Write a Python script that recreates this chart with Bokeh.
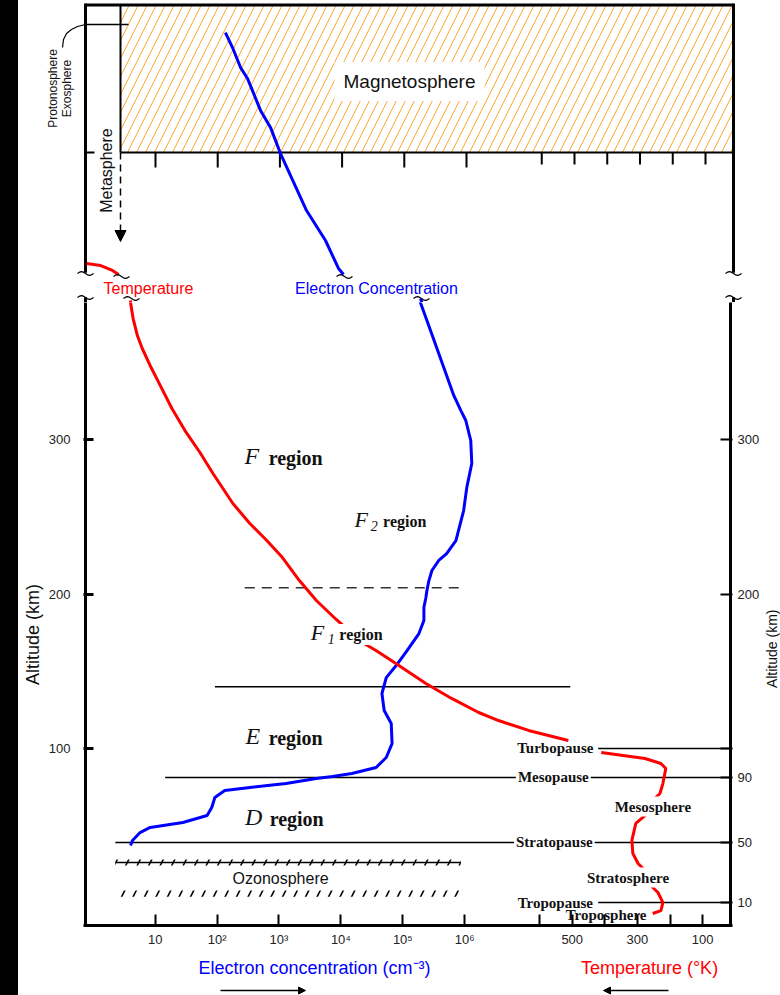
import math
from bokeh.plotting import figure
from bokeh.models import (Range1d, LinearAxis, FixedTicker, Arrow, NormalHead, Spacer,
                          LinearScale)
from bokeh.layouts import row, column
from bokeh.core.properties import value
from bokeh.embed import file_html
from bokeh.resources import INLINE

# ---------------- data ----------------
ne_ticks = [1e1, 1e2, 1e3, 1e4, 1e5, 1e6]
ne_tick_labels = ["10", "10²", "10³", "10⁴", "10⁵", "10⁶"]
temp_ticks = [600, 500, 400, 300, 200, 100]
temp_tick_labels = ["", "500", "", "300", "", "100"]
alt_ticks = [100, 200, 300]

# boundaries (chart altitude, km)
alt_f1_f2 = 204
alt_e_top = 140
alt_turbopause = 100
alt_mesopause = 81.2
alt_stratopause = 39.2
alt_tropopause = 0.3
alt_ozone_top = 26.2
alt_ozone_bottom = 6.1
alt_break_top = 408
alt_break_bottom = 392
alt_magnetosphere = 485.8
right_lower_labels = ["90", "50", "10"]   # mesopause, stratopause, tropopause

# electron concentration (cm^-3) vs altitude
ne_mag = [133, 173, 233, 301, 488, 706, 1023, 2680, 5410, 8753, 10540]
alt_ne_mag = [563.4, 553.7, 540.8, 533.7, 513, 502, 485.1, 448.2, 428.8, 410.7, 406.8]
ne_ion = [1.82e5, 2.45e5, 3.42e5, 4.77e5, 6.65e5, 8.63e5, 1.04e6, 1.25e6, 1.30e6, 1.08e6,
          9.6e5, 7.2e5, 5.1e5, 3.8e5, 2.95e5, 2.64e5, 2.45e5, 2.36e5, 2.19e5, 2.19e5,
          1.82e5, 1.17e5, 7.8e4, 5.4e4, 4.6e4, 5.0e4, 6.5e4, 6.7e4, 5.4e4, 3.7e4,
          1.5e4, 7.3e3, 4.0e3, 1.3e3, 340, 133, 92, 82, 69, 28, 8.3, 5.7, 4.3, 4.0]
alt_ne_ion = [391.3, 377, 360.8, 344.7, 328.5, 318.8, 312.3, 299.4, 284.5, 269,
              254, 234.6, 226.2, 221.7, 215.2, 208.7, 202.3, 197.7, 191.3, 182.8,
              174.4, 163.4, 153.7, 145.9, 135.6, 124.6, 116.2, 103.2, 94.2, 87.7,
              83.8, 81.9, 80.6, 77.3, 74.8, 72.8, 68.3, 61.8, 56.6, 52.1, 48.9, 45.6, 40.5, 37.2]

# temperature (K) vs altitude
temp_top = [1990, 1947, 1911, 1892]
alt_temp_top = [413.9, 412.6, 409.4, 406.8]
temp_thermo = [1856, 1847, 1834, 1819, 1795, 1764, 1728, 1688, 1642, 1602, 1541, 1489, 1437,
               1389, 1337, 1285, 1224, 1144, 1102, 1041, 949, 870, 787, 726, 634, 512]
alt_temp_thermo = [389.9, 378.3, 367.3, 358.9, 347.9, 335.0, 320.1, 305.8, 291.6, 278.0, 258.6,
                   245.6, 234.6, 223.6, 208.7, 195.8, 183.5, 168.6, 163.4, 155.0, 142.1, 132.4,
                   123.3, 118.1, 111.7, 105.2]
temp_atm = [411, 344, 277, 228, 213, 222, 231, 247, 277, 305, 317, 314, 298, 277, 259, 237, 222, 228, 253]
alt_temp_atm = [97.4, 95.5, 93.5, 90.3, 87.1, 77.3, 70.9, 67.6, 56.6, 51.5, 40.5, 32.0, 25.6,
                21.0, 11.3, 6.8, 0.3, -4.9, -6.8]

# ---------------- layout helpers (page pixel -> data units) ----------------
def X(px):
    return 10 ** (1 + (px - 155) / 62.2)

def Y(py):
    return (902.5 - py) / 1.545

def TT(px):
    return (737.75 - px) / 0.3275

SANS = "Liberation Sans"
SERIF = "Liberation Serif"
BLUE = "#0000FF"
RED = "#FF0000"
TILDE = [(-8, 0), (-6, -1.3), (-4, -1.8), (-2, -1.3), (0, 0), (2, 1.3), (4, 1.8), (6, 1.3), (8, 0)]


def mk(width, height, xa, xb, yt, yb, axes=False, **kw):
    extra = {} if axes else dict(x_axis_location=None, y_axis_location=None)
    f = figure(width=width, height=height, x_axis_type="log",
               x_range=Range1d(X(xa), X(xb)), y_range=Range1d(Y(yb), Y(yt)),
               output_backend="svg", toolbar_location=None, outline_line_color=None,
               background_fill_color="white", border_fill_color="white", **extra, **kw)
    f.extra_x_ranges = {"temp": Range1d(TT(xa), TT(xb))}
    f.extra_x_scales = {"temp": LinearScale()}
    f.grid.visible = False
    return f


def txt(f, xp, yp, s, size, color="#111", font=SANS, style="normal", align="center",
        angle=0.0, bg=None, pad=0):
    kw = {}
    if bg is not None:
        kw = dict(background_fill_color=bg, padding=pad)
    f.text(x=[X(xp)], y=[Y(yp)], text=[s], text_font=value(font), text_font_size=f"{size}px",
           text_font_style=style, text_color=color, text_align=align, text_baseline="middle",
           angle=angle, **kw)


def seg(f, pts, width=1.5, color="black", dash="solid"):
    f.segment(x0=[X(a) for a, b, c, d in pts], y0=[Y(b) for a, b, c, d in pts],
              x1=[X(c) for a, b, c, d in pts], y1=[Y(d) for a, b, c, d in pts],
              line_width=width, line_color=color, line_dash=dash)


def squiggle(f, cx, cy):
    f.line(x=[X(cx + dx) for dx, dy in TILDE], y=[Y(cy + dy) for dx, dy in TILDE],
           line_width=1.3, line_color="black")


def profiles(f):
    f.line(ne_ion, alt_ne_ion, line_color=BLUE, line_width=3)
    f.line(temp_thermo, alt_temp_thermo, line_color=RED, line_width=3, x_range_name="temp")
    f.segment(x0=[X(85), X(733)], y0=[alt_break_bottom] * 2, x1=[X(85), X(733)], y1=[Y(925)] * 2,
              line_width=3, line_color="black")


# =============== upper panel (above the altitude break) ===============
up = mk(762, 302, 18, 780, 0, 302, min_border=0)

up.quad(left=X(120), right=X(733), bottom=alt_magnetosphere, top=Y(4), fill_color="white",
        line_color=None, hatch_pattern="/", hatch_color="#FFA82E", hatch_scale=18, hatch_weight=1)
up.segment(x0=[X(85), X(733)], y0=[Y(3), Y(3)], x1=[X(85), X(733)], y1=[alt_break_top, alt_break_top],
           line_width=3, line_color="black")
seg(up, [(85, 4.5, 733, 4.5)], width=3)
up.segment(x0=[X(120), X(120), X(85)], y0=[Y(4), alt_magnetosphere, alt_magnetosphere],
           x1=[X(120), X(733), X(94)], y1=[alt_magnetosphere, alt_magnetosphere, alt_magnetosphere],
           line_width=2, line_color="black")
up.segment(x0=ne_ticks, y0=[alt_magnetosphere] * len(ne_ticks), x1=ne_ticks,
           y1=[Y(167)] * len(ne_ticks), line_width=2, line_color="black")
up.segment(x0=temp_ticks, y0=[alt_magnetosphere] * len(temp_ticks), x1=temp_ticks,
           y1=[Y(164)] * len(temp_ticks), line_width=2, line_color="black", x_range_name="temp")
seg(up, [(85, 24, 128, 24)], width=1.5)
lead = [(62, 47), (63, 39), (66, 33), (71, 29), (77, 26), (85, 24)]
up.line(x=[X(a) for a, b in lead], y=[Y(b) for a, b in lead], line_width=1.2, line_color="black")

up.add_layout(Arrow(end=NormalHead(size=11, fill_color="black", line_color="black"),
                    x_start=X(120), y_start=alt_magnetosphere, x_end=X(120), y_end=Y(241),
                    line_dash="7 5", line_width=1.5, line_color="black"))

up.line(ne_mag, alt_ne_mag, line_color=BLUE, line_width=3)
up.line(temp_top, alt_temp_top, line_color=RED, line_width=3, x_range_name="temp")
profiles(up)

for bx, by in [(85, 273), (733, 273), (121, 276), (344, 276),
               (85, 297), (733, 297), (131, 298), (421, 298)]:
    squiggle(up, bx, by)

txt(up, 409, 81, "Magnetosphere", 19, color="#111", bg="white", pad=9)
txt(up, 106, 170, "Metasphere", 16, angle=math.pi / 2)
txt(up, 52, 88, "Protonosphere", 12, angle=math.pi / 2)
txt(up, 66, 88, "Exosphere", 12, angle=math.pi / 2)
txt(up, 148, 288, "Temperature", 16, color=RED)
txt(up, 376, 288, "Electron Concentration", 16, color=BLUE)

# =============== lower panel (main axes) ===============
lo = mk(718, 653, 83, 735, 302, 925, axes=True,
        min_border_left=39, min_border_right=27, min_border_top=0, min_border_bottom=30)
xr = lo.x_range
tr = lo.extra_x_ranges["temp"]


def tpos(t):
    lx0, lx1 = math.log10(xr.start), math.log10(xr.end)
    return 10 ** (lx0 + (t - tr.start) / (tr.end - tr.start) * (lx1 - lx0))


xa = lo.xaxis[0]
temp_pos = [tpos(t) for t in temp_ticks]
xa.ticker = FixedTicker(ticks=[float(v) for v in ne_ticks] + temp_pos, minor_ticks=[])
ov = {float(v): s for v, s in zip(ne_ticks, ne_tick_labels)}
ov.update({float(v): s for v, s in zip(temp_pos, temp_tick_labels)})
xa.major_label_overrides = ov
xa.axis_line_width = 3
xa.axis_line_color = "black"
xa.major_tick_in = 11
xa.major_tick_out = 0
xa.major_tick_line_width = 2
xa.minor_tick_in = 0
xa.minor_tick_out = 0
xa.major_label_standoff = 6
xa.major_label_text_font = SANS
xa.major_label_text_font_size = "13px"
xa.major_label_text_color = "#222"

ya = lo.yaxis[0]
ya.ticker = FixedTicker(ticks=alt_ticks, minor_ticks=[])
ya.axis_line_color = None
ya.major_tick_in = 10
ya.major_tick_out = 0
ya.major_tick_line_width = 3
ya.minor_tick_in = 0
ya.minor_tick_out = 0
ya.major_label_standoff = 13
ya.major_label_text_font = SANS
ya.major_label_text_font_size = "13px"
ya.major_label_text_color = "#222"

r_ticks = [alt_mesopause, alt_stratopause, alt_tropopause] + alt_ticks
r_over = {alt_mesopause: right_lower_labels[0], alt_stratopause: right_lower_labels[1],
          alt_tropopause: right_lower_labels[2], 100: ""}
ra = LinearAxis(ticker=FixedTicker(ticks=r_ticks, minor_ticks=[]), major_label_overrides=r_over,
                axis_line_color=None, major_tick_in=12, major_tick_out=0, major_tick_line_width=2,
                minor_tick_in=0, minor_tick_out=0, major_label_standoff=5,
                major_label_text_font=SANS, major_label_text_font_size="13px",
                major_label_text_color="#222")
lo.add_layout(ra, "right")

# boundaries
lo.segment(x0=[X(245)], y0=[alt_f1_f2], x1=[X(460)], y1=[alt_f1_f2],
           line_dash="10 7", line_width=1.5, line_color="#333")
lo.segment(x0=[X(215), X(165), X(115), X(600), X(600)],
           y0=[alt_e_top, alt_mesopause, alt_stratopause, alt_turbopause, alt_tropopause],
           x1=[X(572), X(733), X(733), X(733), X(733)],
           y1=[alt_e_top, alt_mesopause, alt_stratopause, alt_turbopause, alt_tropopause],
           line_width=1.5, line_color="black")
lo.segment(x0=[X(115)], y0=[alt_ozone_top], x1=[X(462)], y1=[alt_ozone_top],
           line_width=1.5, line_color="black")
for a in (alt_ozone_top, alt_ozone_bottom):
    lo.quad(left=X(115), right=X(462), bottom=a - 2, top=a + 2, fill_color=None, line_color=None,
            hatch_pattern="/", hatch_color="black", hatch_scale=23, hatch_weight=1.6)

profiles(lo)
lo.line(temp_atm, alt_temp_atm, line_color=RED, line_width=3, x_range_name="temp")


def region(xF, y, letter, sub, x_sub, x_reg, s_letter, s_reg):
    txt(lo, xF, y, letter, s_letter, font=SERIF, style="italic", bg="white", pad=1)
    if sub:
        txt(lo, x_sub, y + 6, sub, 14, font=SERIF, style="italic", bg="white", pad=1)
    txt(lo, x_reg, y + 2, "region", s_reg, font=SERIF, style="bold", align="left", bg="white", pad=2)


region(252, 455, "F", None, None, 267, 24, 20)
region(362, 519, "F", "2", 375, 382, 22, 16)
region(318, 632, "F", "1", 332, 338, 22, 16)
region(253, 735, "E", None, None, 267, 24, 20)
region(254, 816, "D", None, None, 268, 24, 20)

for xp, yp, s in [(555, 776, "Mesopause"), (556, 841, "Stratopause"),
                  (655, 806, "Mesosphere"), (630, 877, "Stratosphere"),
                  (608, 914, "Troposphere")]:
    txt(lo, xp, yp, s, 15, font=SERIF, style="bold", bg="white", pad=2)
for xp, yp, s in [(557, 747, "Turbopause"), (557, 902, "Tropopause")]:
    txt(lo, xp, yp, s, 15, font=SERIF, style="bold")

txt(lo, 281, 878, "Ozonosphere", 16)

# =============== side strips ===============
ls = mk(26, 653, 18, 44, 302, 955, min_border=0)
txt(ls, 32, 650, "Altitude (km)", 18, angle=math.pi / 2)
rs = mk(18, 653, 762, 780, 302, 955, min_border=0)
txt(rs, 771, 665, "Altitude (km)", 14, angle=math.pi / 2)

# =============== bottom strip ===============
bt = mk(762, 40, 18, 780, 955, 995, min_border=0)
txt(bt, 314, 967, "Electron concentration (cm⁻³)", 18, color=BLUE)
txt(bt, 649, 967, "Temperature (°K)", 18, color=RED)
bt.add_layout(Arrow(end=NormalHead(size=7, fill_color="black", line_color="black"),
                    x_start=X(220), y_start=Y(990), x_end=X(305), y_end=Y(990),
                    line_width=1.5, line_color="black"))
bt.add_layout(Arrow(end=NormalHead(size=7, fill_color="black", line_color="black"),
                    x_start=X(668), y_start=Y(990), x_end=X(603), y_end=Y(990),
                    line_width=1.5, line_color="black"))

layout = row(Spacer(width=18, height=995, styles={"background-color": "black"}),
             column(up, row(ls, lo, rs), bt))
open("out.html", "w").write(file_html(layout, INLINE))
